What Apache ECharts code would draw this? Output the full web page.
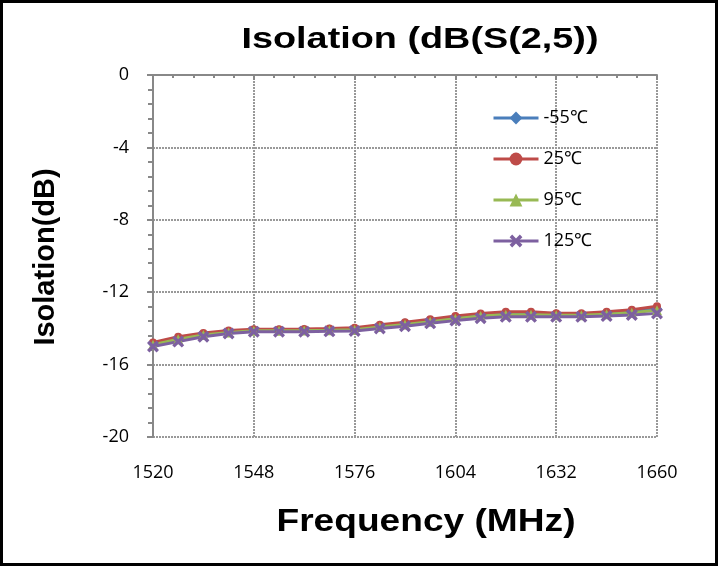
<!DOCTYPE html>
<html><head><meta charset="utf-8">
<script src="https://cdn.jsdelivr.net/npm/echarts@6/dist/echarts.min.js"></script>
<style>html,body{margin:0;padding:0;background:#fff}#c{width:718px;height:566px}</style>
</head><body><div id="c"></div>
<script>
const freqs = [1520,1527,1534,1541,1548,1555,1562,1569,1576,1583,1590,1597,1604,1611,1618,1625,1632,1639,1646,1653,1660];
const seriesNames = ['-55℃','25℃','95℃','125℃'];
const m55 = [-14.85,-14.55,-14.33,-14.18,-14.1,-14.1,-14.08,-14.06,-14.02,-13.86,-13.72,-13.58,-13.4,-13.25,-13.17,-13.17,-13.24,-13.24,-13.17,-13.07,-12.9];
const t25 = [-14.78,-14.46,-14.25,-14.12,-14.05,-14.05,-14.03,-14.0,-13.96,-13.8,-13.66,-13.5,-13.32,-13.17,-13.08,-13.08,-13.16,-13.16,-13.08,-12.97,-12.78];
const t95 = [-14.9,-14.6,-14.36,-14.22,-14.13,-14.13,-14.12,-14.1,-14.07,-13.92,-13.78,-13.63,-13.46,-13.32,-13.24,-13.24,-13.28,-13.28,-13.22,-13.14,-13.0];
const t125 = [-15.0,-14.73,-14.46,-14.28,-14.18,-14.18,-14.18,-14.16,-14.14,-14.0,-13.88,-13.72,-13.57,-13.44,-13.36,-13.36,-13.36,-13.36,-13.32,-13.26,-13.17];
const xTicks = {min:1520, max:1660, interval:28};
const yTicks = {min:-20, max:0, interval:4};
const titleText = 'Isolation (dB(S(2,5))';
const xName = 'Frequency (MHz)';
const yName = 'Isolation(dB)';

const colors = ['#4A7EBB','#BE4B48','#98B954','#7D60A0'];
const symbols = ['diamond','circle','triangle','path://M0,2 L2,0 L5,3 L8,0 L10,2 L7,5 L10,8 L8,10 L5,7 L2,10 L0,8 L3,5 Z'];
const sizes = [10,8,10,12];
const vals = [m55,t25,t95,t125];

const chart = echarts.init(document.getElementById('c'), null, {renderer:'canvas'});
const labelFont = {fontFamily:'Open Sans', fontSize:18, color:'#000'};
chart.setOption({
  animation:false,
  backgroundColor:'#fff',
  color: colors,
  graphic:[
    {type:'rect', shape:{x:1.5,y:1.5,width:715,height:563}, style:{fill:'none', stroke:'#000', lineWidth:3}, z:100},
    {type:'text', x:420, y:40, scaleX:1.26, style:{text:titleText, textAlign:'center', textVerticalAlign:'middle',
      fontFamily:'Liberation Sans', fontWeight:'bold', fontSize:30, fill:'#000'}},
    {type:'text', x:426, y:522, scaleX:1.16, style:{text:xName, textAlign:'center', textVerticalAlign:'middle',
      fontFamily:'Liberation Sans', fontWeight:'bold', fontSize:32, fill:'#000'}},
    {type:'text', x:46, y:257, rotation:Math.PI/2, style:{text:yName, textAlign:'center', textVerticalAlign:'middle',
      fontFamily:'Liberation Sans', fontWeight:'bold', fontSize:29, fill:'#000'}}
  ],
  legend:{
    orient:'vertical', left:492, top:109, itemWidth:45, itemHeight:16, itemGap:23, padding:0, itemTextGap:3,
    lineStyle:{width:3},
    textStyle:{fontFamily:'Open Sans', fontSize:18, color:'#000', lineHeight:18},
    data: seriesNames
  },
  grid:{left:153, right:61, top:75, bottom:129},
  xAxis:{type:'value', min:xTicks.min, max:xTicks.max, interval:xTicks.interval,
    axisLine:{lineStyle:{color:'#888', width:2}},
    axisTick:{show:true, length:5, lineStyle:{color:'#888', width:2}},
    minorTick:{show:true, splitNumber:5, length:3, lineStyle:{color:'#888', width:2}},
    axisLabel:{...labelFont, margin:27, formatter: v => String(v)},
    splitLine:{show:true, lineStyle:{color:'#999', width:2, type:[2,1]}}
  },
  yAxis:{type:'value', min:yTicks.min, max:yTicks.max, interval:yTicks.interval,
    axisLine:{show:true, lineStyle:{color:'#888', width:2}},
    axisTick:{show:true, length:6, lineStyle:{color:'#888', width:2}},
    minorTick:{show:true, splitNumber:5, length:5, lineStyle:{color:'#888', width:2}},
    axisLabel:{...labelFont, margin:24, formatter: v => String(v)},
    splitLine:{show:true, lineStyle:{color:'#999', width:2, type:[2,1]}}
  },
  series: seriesNames.map((n,i)=>({
    name:n, type:'line', data: freqs.map((f,j)=>[f, vals[i][j]]),
    symbol: symbols[i], symbolSize: sizes[i], showSymbol:true,
    lineStyle:{width:3, color:colors[i]}, itemStyle:{color:colors[i]}, smooth:false
  }))
});
</script></body></html>
